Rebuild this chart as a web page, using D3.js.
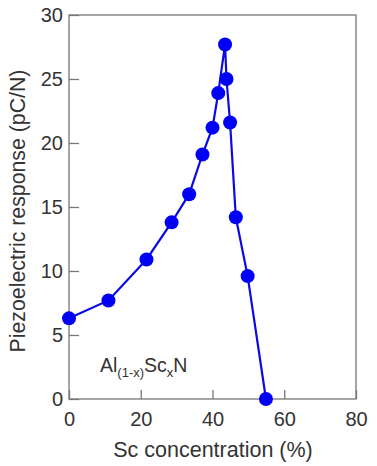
<!DOCTYPE html>
<html>
<head>
<meta charset="utf-8">
<script src="https://cdn.jsdelivr.net/npm/d3@7"></script>
<style>
  body { margin: 0; background: #fff; }
  text { font-family: "Liberation Sans", Arial, sans-serif; fill: #333; }
</style>
</head>
<body>
<svg id="chart"></svg>
<script>
// Sc concentration (%) and piezoelectric response (pC/N)
var scConc = [0, 11, 21.6, 28.6, 33.5, 37.2, 40, 41.6, 43.5, 43.9, 44.9, 46.5, 49.8, 54.9];
var d33 = [6.3, 7.7, 10.9, 13.8, 16.0, 19.1, 21.2, 23.9, 27.7, 25.0, 21.6, 14.2, 9.6, 0];
var xTicks = [0, 20, 40, 60, 80];
var yTicks = [0, 5, 10, 15, 20, 25, 30];

var width = 377, height = 466;
var margin = { top: 15, right: 21, bottom: 67, left: 69 };

var svg = d3.select('#chart')
  .attr('width', width)
  .attr('height', height);

var x = d3.scaleLinear().domain([0, 80]).range([margin.left, width - margin.right]);
var y = d3.scaleLinear().domain([0, 30]).range([height - margin.bottom, margin.top]);

var axisColor = '#777';
var font = '"Liberation Sans", Arial, sans-serif';

// frame
svg.append('rect')
  .attr('x', x(0))
  .attr('y', y(30))
  .attr('width', x(80) - x(0))
  .attr('height', y(0) - y(30))
  .attr('fill', 'none')
  .attr('stroke', axisColor)
  .attr('stroke-width', 1.3);

// x axis, ticks pointing inward
var xAxis = svg.append('g')
  .attr('transform', 'translate(0,' + y(0) + ')')
  .call(d3.axisBottom(x).tickValues(xTicks).tickSizeInner(-9).tickSizeOuter(0).tickPadding(13));
xAxis.select('.domain').remove();
xAxis.selectAll('line').attr('stroke', axisColor).attr('stroke-width', 1.3);
xAxis.selectAll('text').attr('font-size', 20).attr('fill', '#333').attr('font-family', font);

// y axis
var yAxis = svg.append('g')
  .attr('transform', 'translate(' + x(0) + ',0)')
  .call(d3.axisLeft(y).tickValues(yTicks).tickSizeInner(-10).tickSizeOuter(0).tickPadding(6));
yAxis.select('.domain').remove();
yAxis.selectAll('line').attr('stroke', axisColor).attr('stroke-width', 1.3);
yAxis.selectAll('text').attr('font-size', 20).attr('fill', '#333').attr('font-family', font);

// axis titles
svg.append('text')
  .attr('x', 213)
  .attr('y', 457)
  .attr('text-anchor', 'middle')
  .attr('font-size', 21.5)
  .text('Sc concentration (%)');

svg.append('text')
  .attr('transform', 'translate(25,' + 211 + ') rotate(-90)')
  .attr('text-anchor', 'middle')
  .attr('font-size', 21.3)
  .text('Piezoelectric response (pC/N)');

// compound label
var label = svg.append('text')
  .attr('x', 100)
  .attr('y', 372)
  .attr('font-size', 19.5);
label.append('tspan').text('Al');
label.append('tspan').attr('font-size', 13).attr('dy', 5).text('(1-x)');
label.append('tspan').attr('dy', -5).text('Sc');
label.append('tspan').attr('font-size', 13).attr('dy', 5).text('x');
label.append('tspan').attr('dy', -5).text('N');

// data
var points = scConc.map(function (v, i) { return { x: v, y: d33[i] }; });

var line = d3.line()
  .x(function (d) { return x(d.x); })
  .y(function (d) { return y(d.y); });

svg.append('path')
  .datum(points)
  .attr('d', line)
  .attr('fill', 'none')
  .attr('stroke', '#0a0ae6')
  .attr('stroke-width', 2.2);

svg.selectAll('.dot')
  .data(points)
  .join('circle')
  .attr('class', 'dot')
  .attr('cx', function (d) { return x(d.x); })
  .attr('cy', function (d) { return y(d.y); })
  .attr('r', 7)
  .attr('fill', '#0000f5');
</script>
</body>
</html>
